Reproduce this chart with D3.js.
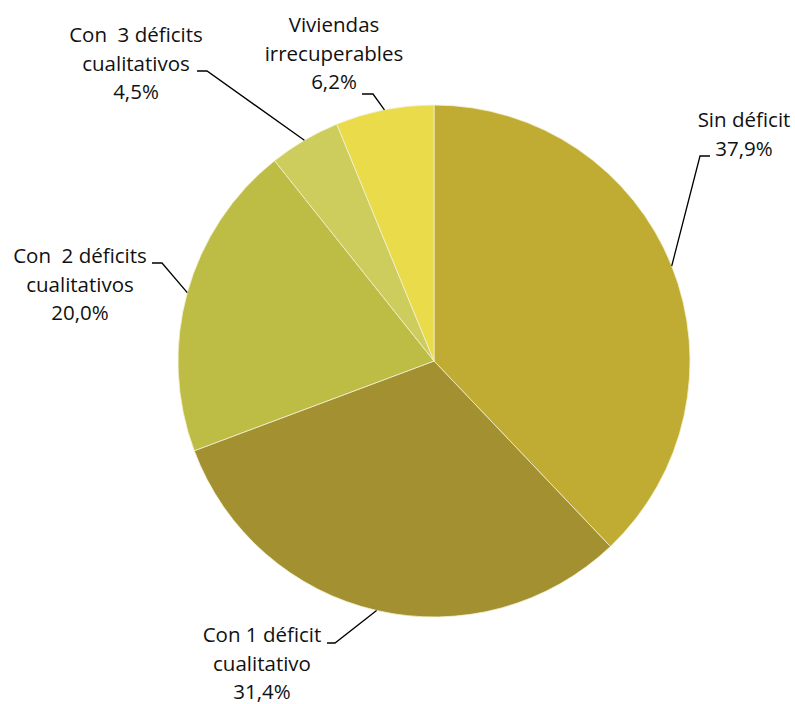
<!DOCTYPE html>
<html><head><meta charset="utf-8">
<script src="https://cdn.jsdelivr.net/npm/d3@7"></script>
<style>body{margin:0;background:#fff}svg{display:block}text{font-family:"Open Sans",sans-serif;font-size:20.5px;fill:#111}</style>
</head><body>
<script>
const categories = ["Sin déficit","Con 1 déficit cualitativo","Con  2 déficits cualitativos","Con  3 déficits cualitativos","Viviendas irrecuperables"];
const values = [37.9, 31.4, 20.0, 4.5, 6.2];
const valueLabels = ["37,9%","31,4%","20,0%","4,5%","6,2%"];
const labelLines = [["Sin déficit","37,9%"],["Con 1 déficit","cualitativo","31,4%"],["Con  2 déficits","cualitativos","20,0%"],["Con  3 déficits","cualitativos","4,5%"],["Viviendas","irrecuperables","6,2%"]];
const colors = ["#C0AC32","#A39030","#BDBC45","#CDCD5D","#EADB4B"];

// layout (not data)
const W=795,H=704,cx=434,cy=361,R=256;
const labelLayout = [
  {x:744,y:127,elbow:[700,156],end:[710,156]},
  {x:262,y:642,elbow:[335,643],end:[327,643]},
  {x:80,y:263,elbow:[162,263],end:[152,263]},
  {x:136,y:42,elbow:[207,71],end:[197,71]},
  {x:334,y:32,elbow:[373,94],end:[362,94]}
];
const lh=28.5;

const svg=d3.select("body").append("svg").attr("width",W).attr("height",H);
const g=svg.append("g").attr("transform",`translate(${cx},${cy})`);
const pie=d3.pie().sort(null).value(d=>d)(values);
const arc=d3.arc().innerRadius(0).outerRadius(R);
g.selectAll("path").data(pie).join("path").attr("d",arc)
 .attr("fill",(d,i)=>colors[i]).attr("stroke","#f4f0d0").attr("stroke-width",0.8);

pie.forEach((d,i)=>{
  const a=(d.startAngle+d.endAngle)/2;
  const px=cx+R*Math.sin(a), py=cy-R*Math.cos(a);
  const L=labelLayout[i];
  svg.append("polyline").attr("points",[[px,py],L.elbow,L.end].map(p=>p.join(",")).join(" "))
    .attr("fill","none").attr("stroke","#000").attr("stroke-width",1.3);
  const t=svg.append("text").attr("text-anchor","middle").attr("xml:space","preserve");
  labelLines[i].forEach((s,j)=>t.append("tspan").attr("x",L.x).attr("y",L.y+j*lh).text(s));
});
</script>
</body></html>
